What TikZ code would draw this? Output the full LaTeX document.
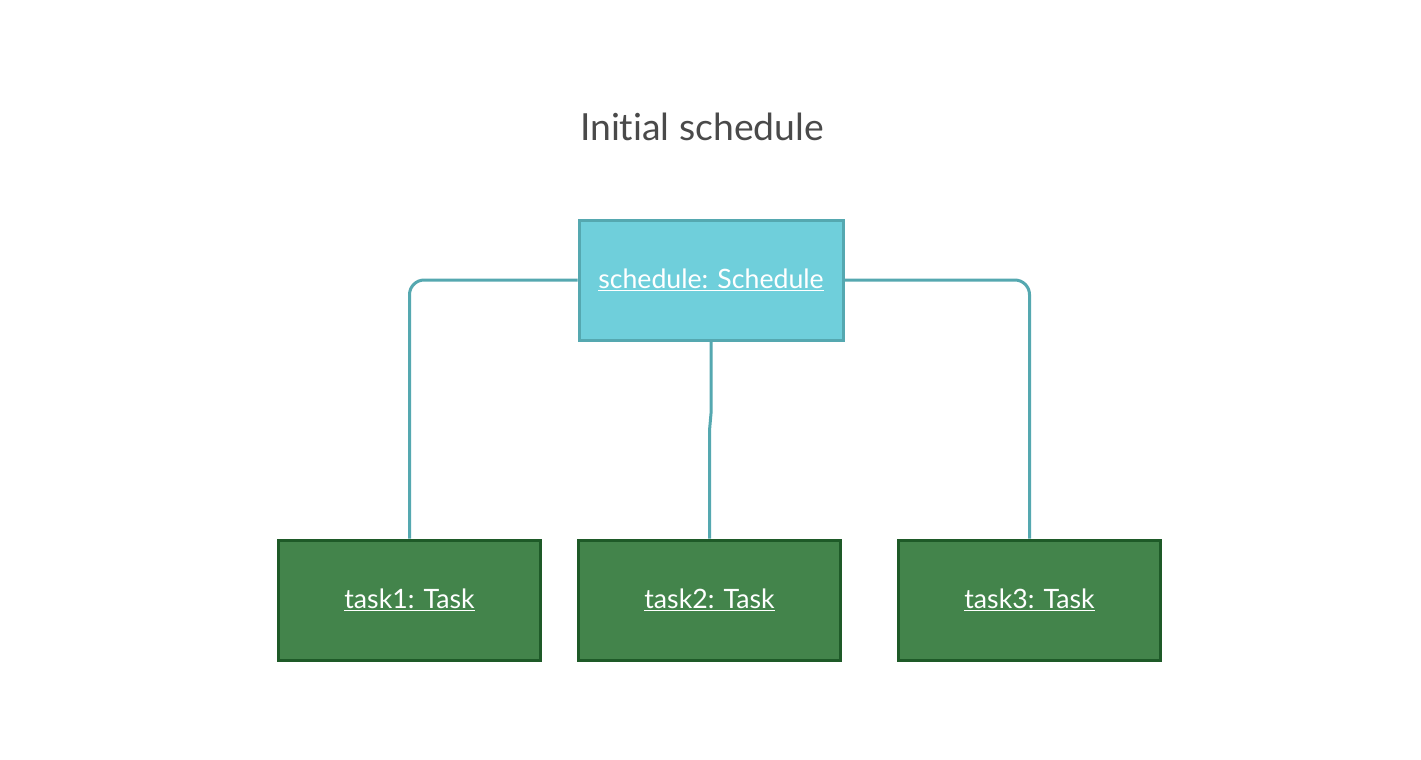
\documentclass[tikz,border=0pt]{standalone}
\usepackage{fontspec}
\setmainfont{Lato}[Ligatures={NoCommon}]
\usetikzlibrary{calc}
\definecolor{schedfill}{HTML}{6FCFDB}
\definecolor{schedline}{HTML}{55A8B0}
\definecolor{taskfill}{HTML}{43844B}
\definecolor{taskline}{HTML}{1E5A28}
\definecolor{titlegray}{HTML}{4A4A4A}

\begin{document}
\begin{tikzpicture}[x=0.75pt, y=-0.75pt,
        obj/.style={draw, line width=2.25pt, text=white, font=\fontsize{20}{24}\selectfont, inner sep=0pt},
        schedbox/.style={obj, fill=schedfill, draw=schedline, minimum width=198pt, minimum height=90pt},
        taskbox/.style={obj, fill=taskfill, draw=taskline, minimum width=196pt, minimum height=90pt},
        link/.style={draw=schedline, line width=2.25pt, rounded corners=11pt}]
        \useasboundingbox[fill=white] (0,0) rectangle (1421,760);

        \node[text=titlegray, font=\fontsize{28}{34}\selectfont] (title) at (702,127) {Initial schedule};

        \node[schedbox] (sched) at (711,280) {\underline{schedule: Schedule}};
        \node[taskbox] (task1) at (409.5,600) {\underline{task1: Task}};
        \node[taskbox] (task2) at (709.5,600) {\underline{task2: Task}};
        \node[taskbox] (task3) at (1029.5,600) {\underline{task3: Task}};

        \path[link] (sched.west) -| (task1.north);
        \path[link] (sched.east) -| (task3.north);
        \draw[schedline, line width=2.25pt] (sched.south) -- ++(0,72) -- ($(task2.north)+(0,-108)$) -- (task2.north);
    \end{tikzpicture}
\end{document}
